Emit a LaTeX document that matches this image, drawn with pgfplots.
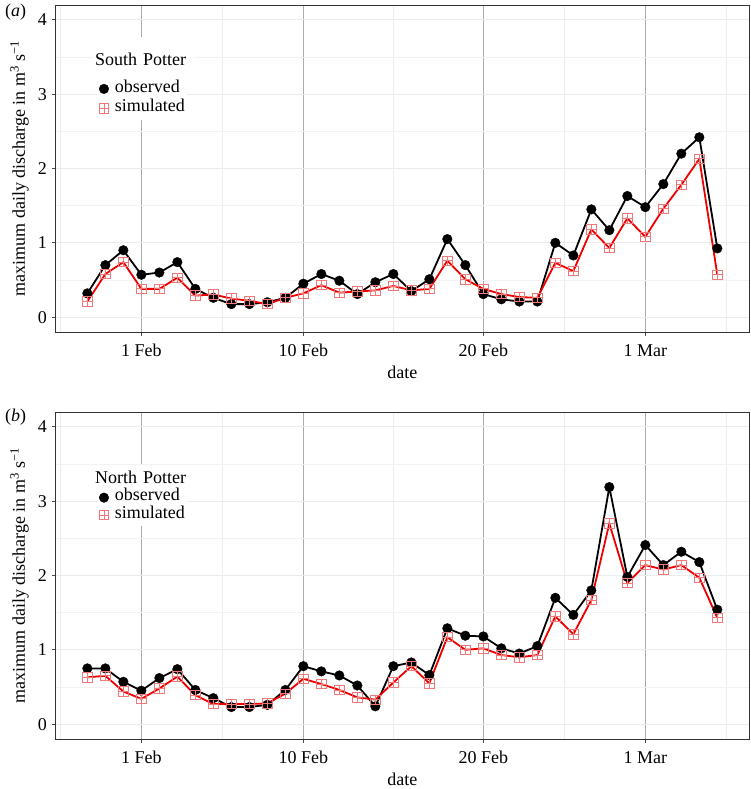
\documentclass[border=0pt]{standalone}
\usepackage{fontspec}
\setmainfont{Liberation Serif}
\usepackage{pgfplots}
\usepackage{pgfplotstable}
\pgfplotsset{compat=1.18}
\newcommand\F{\fontsize{18}{21}\selectfont}
\definecolor{simred}{HTML}{EE0000}
\definecolor{sqred}{HTML}{F07878}
\pgfdeclareplotmark{boxplus}{%
 \pgfpathrectangle{\pgfqpoint{-\pgfplotmarksize}{-\pgfplotmarksize}}{\pgfqpoint{2\pgfplotmarksize}{2\pgfplotmarksize}}%
 \pgfpathmoveto{\pgfqpoint{-\pgfplotmarksize}{0pt}}\pgfpathlineto{\pgfqpoint{\pgfplotmarksize}{0pt}}%
 \pgfpathmoveto{\pgfqpoint{0pt}{-\pgfplotmarksize}}\pgfpathlineto{\pgfqpoint{0pt}{\pgfplotmarksize}}%
 \pgfusepathqstroke}

\pgfplotstableread{
day obs sim
-3 0.32 0.21
-2 0.70 0.58
-1 0.90 0.74
0 0.57 0.38
1 0.60 0.38
2 0.74 0.53
3 0.38 0.29
4 0.26 0.305
5 0.175 0.25
6 0.175 0.22
7 0.20 0.175
8 0.26 0.26
9 0.45 0.32
10 0.58 0.43
11 0.49 0.33
12 0.31 0.345
13 0.47 0.36
14 0.58 0.42
15 0.35 0.36
16 0.51 0.38
17 1.05 0.76
18 0.70 0.51
19 0.31 0.38
20 0.24 0.31
21 0.21 0.27
22 0.21 0.26
23 1.00 0.73
24 0.83 0.62
25 1.45 1.18
26 1.17 0.93
27 1.63 1.33
28 1.48 1.08
29 1.79 1.46
30 2.20 1.78
31 2.42 2.13
32 0.925 0.57
}\southtab

\pgfplotstableread{
day obs sim
-3 0.75 0.63
-2 0.75 0.65
-1 0.57 0.44
0 0.45 0.34
1 0.62 0.48
2 0.74 0.64
3 0.46 0.39
4 0.35 0.27
5 0.23 0.27
6 0.23 0.27
7 0.26 0.28
8 0.46 0.41
9 0.78 0.61
10 0.71 0.54
11 0.655 0.46
12 0.52 0.36
13 0.24 0.33
14 0.78 0.56
15 0.83 0.78
16 0.66 0.55
17 1.29 1.17
18 1.19 1.00
19 1.18 1.02
20 1.02 0.93
21 0.95 0.90
22 1.05 0.93
23 1.70 1.45
24 1.47 1.21
25 1.80 1.67
26 3.19 2.70
27 1.98 1.90
28 2.41 2.14
29 2.14 2.08
30 2.32 2.14
31 2.18 1.97
32 1.54 1.43
}\northtab

\pgfplotsset{
 panel/.style={
  scale only axis, width=693.5pt, height=327pt,
  xmin=-4.77, xmax=33.76, ymin=-0.2, ymax=4.2,
  xtick={0,9,19,28}, xticklabels={1 Feb,10 Feb,20 Feb,1 Mar},
  minor xtick={-4.5,4.5,14,23.5,32.5},
  ytick={0,1,2,3,4}, minor ytick={0.5,1.5,2.5,3.5},
  xmajorgrids, ymajorgrids, xminorgrids, yminorgrids,
  major x grid style={draw=black!33, line width=0.9pt},
  minor x grid style={draw=black!7, line width=0.7pt},
  major y grid style={draw=black!8, line width=0.9pt},
  minor y grid style={draw=black!5, line width=0.7pt},
  tick align=outside, major tick length=3.5pt, minor tick length=0pt,
  xtick pos=bottom, ytick pos=left,
  tick style={draw=black!70, line width=0.8pt},
  axis line style={draw=black!80, line width=1pt},
  /pgf/number format/assume math mode=true,
  tick label style={font=\F},
  xticklabel style={inner sep=0pt, anchor=base, yshift=-20.5pt},
  yticklabel style={inner sep=0pt, anchor=east, xshift=-5pt},
  ylabel={maximum daily discharge in m\textsuperscript{3} s\textsuperscript{−1}},
  ylabel style={font=\F, at={(rel axis cs:-0.0382,0.5)}, anchor=south, inner sep=0pt},
  xlabel={date},
  xlabel style={font=\F, at={(axis description cs:0.5,0)}, anchor=base, inner sep=0pt, yshift=-46pt},
  legend image code/.code={\draw[##1] plot coordinates {(0pt,0pt)};},
  legend cell align=left,
 },
 obsline/.style={black, line width=1.8pt, no marks, forget plot},
 simline/.style={simred, line width=1.8pt, no marks, forget plot},
 obsmark/.style={only marks, mark=*, mark size=4.8pt, black, mark options={fill=black, draw=black}},
 simmark/.style={only marks, mark=boxplus, mark size=4.7pt, sqred, mark options={draw=sqred, line width=0.8pt}},
}

\begin{document}
\begin{tikzpicture}[x=1pt,y=1pt]
\useasboundingbox (0,0) rectangle (750,-789);
\node[anchor=base west, inner sep=0pt, font=\F] at (5pt,-17pt) {(\textit{a})};
\node[anchor=base west, inner sep=0pt, font=\F] at (5pt,-421.5pt) {(\textit{b})};

\begin{axis}[panel, at={(55.5pt,-332pt)}, anchor=south west,
  legend style={at={(axis description cs:0.0598,0.7798)}, anchor=north west, draw=none, fill=white,
    inner sep=2pt, row sep=0pt, column sep=6pt, font=\F,
    nodes={inner sep=0pt, text height=13pt, text depth=6.4pt}}]
\addplot[obsline] table[x=day, y=obs] {\southtab};
\addplot[simline] table[x=day, y=sim] {\southtab};
\addplot[obsmark] table[x=day, y=obs] {\southtab};
\addlegendentry{observed}
\addplot[simmark] table[x=day, y=sim] {\southtab};
\addlegendentry{simulated}
\node[anchor=north west, fill=white, inner xsep=2pt, inner ysep=0pt, minimum height=45pt,
  text width=98pt, align=left, font=\F] at (axis description cs:0.0541,0.902) {South Potter};
\end{axis}

\begin{axis}[panel, at={(55.5pt,-739pt)}, anchor=south west,
  legend style={at={(axis description cs:0.0598,0.7713)}, anchor=north west, draw=none, fill=white,
    inner sep=2pt, row sep=0pt, column sep=6pt, font=\F,
    nodes={inner sep=0pt, text height=12pt, text depth=5.3pt}}]
\addplot[obsline] table[x=day, y=obs] {\northtab};
\addplot[simline] table[x=day, y=sim] {\northtab};
\addplot[obsmark] table[x=day, y=obs] {\northtab};
\addlegendentry{observed}
\addplot[simmark] table[x=day, y=sim] {\northtab};
\addlegendentry{simulated}
\node[anchor=north west, fill=white, inner xsep=2pt, inner ysep=0pt, minimum height=24pt,
  text width=98pt, align=left, font=\F] at (axis description cs:0.0541,0.8387) {North Potter};
\end{axis}
\end{tikzpicture}
\end{document}
